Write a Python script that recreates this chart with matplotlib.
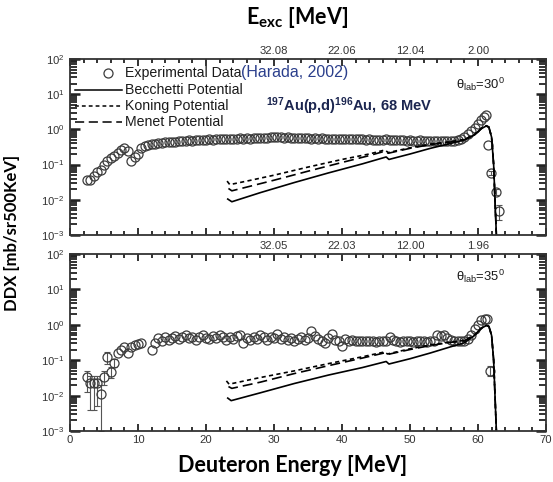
import matplotlib
matplotlib.use('Agg')
import matplotlib.pyplot as plt
from matplotlib import font_manager as fm
from matplotlib.ticker import (LogLocator, MultipleLocator, NullFormatter,
                               FuncFormatter, NullLocator)
import numpy as np


def pick(names):
    for n in names:
        try:
            fm.findfont(fm.FontProperties(family=n), fallback_to_default=False)
            return n
        except Exception:
            pass
    return None


NARROW = pick(['Liberation Sans Narrow', 'Arial Narrow', 'Nimbus Sans Narrow'])
ARIAL = pick(['Liberation Sans', 'Arial']) or 'DejaVu Sans'
BOLDF = pick(['Lato', 'Carlito', 'Open Sans']) or 'DejaVu Sans'
NSCALE = 1.0
if NARROW is None:
    NARROW = ARIAL
    NSCALE = 0.85

plt.rcParams['font.family'] = [NARROW, 'DejaVu Sans']
plt.rcParams['mathtext.fontset'] = 'custom'
plt.rcParams['mathtext.rm'] = NARROW
plt.rcParams['mathtext.it'] = NARROW + ':italic'
plt.rcParams['mathtext.bf'] = ARIAL + ':bold'

# ---------------- data ----------------
# theta_lab = 30 deg : experimental data (Harada, 2002)
e_exp30 = [2.5, 3.0, 3.5, 4.0, 4.5, 5.0, 5.5, 6.0, 6.5, 7.0, 7.5, 8.0, 8.5, 9.0,
           9.5, 10.0, 10.5, 11.0, 11.5, 12.0, 12.5, 13.0, 13.5, 14.0, 14.5, 15.0,
           15.5, 16.0, 16.5, 17.0, 17.5, 18.0, 18.5, 19.0, 19.5, 20.0, 20.5, 21.0,
           21.5, 22.0, 22.5, 23.0, 23.5, 24.0, 24.5, 25.0, 25.5, 26.0, 26.5, 27.0,
           27.5, 28.0, 28.5, 29.0, 29.5, 30.0, 30.5, 31.0, 31.5, 32.0, 32.5, 33.0,
           33.5, 34.0, 34.5, 35.0, 35.5, 36.0, 36.5, 37.0, 37.5, 38.0, 38.5, 39.0,
           39.5, 40.0, 40.5, 41.0, 41.5, 42.0, 42.5, 43.0, 43.5, 44.0, 44.5, 45.0,
           45.5, 46.0, 46.5, 47.0, 47.5, 48.0, 48.5, 49.0, 49.5, 50.0, 50.5, 51.0,
           51.5, 52.0, 52.5, 53.0, 53.5, 54.0, 54.5, 55.0, 55.5, 56.0, 56.5, 57.0,
           57.5, 58.0, 58.5, 59.0, 59.5, 60.0, 60.5, 60.9, 61.2, 61.5, 61.9, 62.6,
           63.1]
ddx_exp30 = [0.036, 0.037, 0.048, 0.060, 0.072, 0.095, 0.125, 0.150, 0.175, 0.210,
             0.260, 0.300, 0.240, 0.130, 0.165, 0.200, 0.300, 0.330, 0.350, 0.380,
             0.390, 0.400, 0.420, 0.430, 0.440, 0.450, 0.450, 0.470, 0.460, 0.480,
             0.490, 0.480, 0.500, 0.500, 0.510, 0.500, 0.520, 0.510, 0.530, 0.520,
             0.540, 0.530, 0.540, 0.550, 0.540, 0.560, 0.550, 0.560, 0.550, 0.570,
             0.560, 0.560, 0.570, 0.580, 0.600, 0.620, 0.600, 0.590, 0.580, 0.590,
             0.570, 0.580, 0.570, 0.560, 0.570, 0.560, 0.550, 0.560, 0.550, 0.560,
             0.540, 0.550, 0.540, 0.530, 0.550, 0.540, 0.530, 0.540, 0.520, 0.530,
             0.520, 0.530, 0.510, 0.520, 0.510, 0.500, 0.510, 0.500, 0.520, 0.500,
             0.490, 0.510, 0.490, 0.500, 0.480, 0.490, 0.480, 0.470, 0.490, 0.480,
             0.470, 0.480, 0.460, 0.470, 0.470, 0.460, 0.480, 0.470, 0.480, 0.500,
             0.540, 0.620, 0.750, 0.900, 1.100, 1.400, 1.800, 2.200, 2.500, 0.360,
             0.058, 0.017, 0.0048]
# error bars visible for a few points (lower / upper ends)
e_err30 = [61.9, 62.6, 63.1]
lo_err30 = [0.050, 0.014, 0.0026]
hi_err30 = [0.066, 0.020, 0.0070]

# theta_lab = 35 deg : experimental data
e_exp35 = [2.5, 3.0, 3.5, 4.0, 4.5, 5.0, 5.5, 6.0, 6.5, 7.0, 7.5, 8.0, 8.5, 9.0,
           9.5, 10.0, 10.5, 12.0, 12.5, 13.0, 13.5, 14.0, 14.5, 15.0, 15.5, 16.0,
           16.5, 17.0, 17.5, 18.0, 18.5, 19.0, 19.5, 20.0, 20.5, 21.0, 21.5, 22.0,
           22.5, 23.0, 23.5, 24.0, 24.5, 25.0, 25.5, 26.0, 26.5, 27.0, 27.5, 28.0,
           28.5, 29.0, 29.5, 30.0, 30.5, 31.0, 31.5, 32.0, 32.5, 33.0, 33.5, 34.0,
           34.5, 35.0, 35.5, 36.0, 36.5, 37.0, 37.5, 38.0, 38.5, 39.0, 39.5, 40.0,
           40.5, 41.0, 41.5, 42.0, 42.5, 43.0, 43.5, 44.0, 44.5, 45.0, 45.5, 46.0,
           46.5, 47.0, 47.5, 48.0, 48.5, 49.0, 49.5, 50.0, 50.5, 51.0, 51.5, 52.0,
           52.5, 53.0, 53.5, 54.0, 54.5, 55.0, 55.5, 56.0, 56.5, 57.0, 57.5, 58.0,
           58.5, 59.0, 59.5, 60.0, 60.5, 61.0, 61.3, 61.8]
ddx_exp35 = [0.034, 0.022, 0.022, 0.022, 0.011, 0.034, 0.120, 0.047, 0.085, 0.160,
             0.200, 0.240, 0.160, 0.240, 0.270, 0.280, 0.310, 0.190, 0.300, 0.420,
             0.350, 0.450, 0.380, 0.420, 0.480, 0.400, 0.440, 0.500, 0.420, 0.460,
             0.380, 0.450, 0.520, 0.430, 0.400, 0.480, 0.420, 0.500, 0.460, 0.380,
             0.440, 0.400, 0.470, 0.500, 0.300, 0.420, 0.380, 0.460, 0.410, 0.500,
             0.440, 0.380, 0.450, 0.420, 0.550, 0.400, 0.460, 0.380, 0.420, 0.360,
             0.400, 0.440, 0.380, 0.420, 0.650, 0.480, 0.400, 0.360, 0.300, 0.420,
             0.560, 0.380, 0.350, 0.260, 0.400, 0.360, 0.380, 0.340, 0.360, 0.350,
             0.340, 0.360, 0.350, 0.330, 0.340, 0.360, 0.350, 0.460, 0.380, 0.350,
             0.330, 0.360, 0.340, 0.350, 0.330, 0.360, 0.340, 0.350, 0.330, 0.340,
             0.360, 0.500, 0.480, 0.520, 0.420, 0.380, 0.360, 0.350, 0.360, 0.350,
             0.400, 0.500, 0.750, 1.000, 1.400, 1.500, 1.450, 0.050]
e_err35 = [2.5, 3.0, 3.5, 4.0, 4.5, 5.0, 5.5, 6.0, 6.5, 61.8]
lo_err35 = [0.013, 0.004, 0.004, 0.005, 0.001, 0.020, 0.080, 0.032, 0.065, 0.036]
hi_err35 = [0.050, 0.035, 0.035, 0.035, 0.020, 0.050, 0.170, 0.065, 0.110, 0.068]

# model calculations, theta_lab = 30 deg
e_becc30 = [23.2, 23.8, 28.0, 33.0, 38.0, 43.0, 46.5, 46.9, 50.0, 53.0, 56.0, 58.0,
            59.5, 60.5, 61.2, 61.6, 62.0, 62.3, 62.5, 62.7]
ddx_becc30 = [0.0105, 0.0088, 0.016, 0.031, 0.058, 0.105, 0.165, 0.140, 0.20, 0.29,
              0.40, 0.50, 0.70, 1.05, 1.25, 1.15, 0.60, 0.10, 0.010, 0.001]
e_koni30 = [23.1, 23.5, 26.0, 30.0, 35.0, 40.0, 44.0, 46.3, 46.8, 50.0, 53.0, 56.0,
            58.0, 59.5, 60.5, 61.2, 61.6, 62.0, 62.3, 62.5, 62.7]
ddx_koni30 = [0.034, 0.027, 0.034, 0.050, 0.085, 0.140, 0.200, 0.260, 0.220, 0.30,
              0.38, 0.45, 0.52, 0.72, 1.08, 1.28, 1.17, 0.60, 0.10, 0.010, 0.001]
e_mene30 = [23.3, 23.8, 26.0, 30.0, 35.0, 40.0, 44.0, 46.3, 46.8, 50.0, 53.0, 56.0,
            58.0, 59.5, 60.5, 61.2, 61.6, 62.0, 62.3, 62.5, 62.7]
ddx_mene30 = [0.021, 0.018, 0.023, 0.036, 0.065, 0.115, 0.180, 0.240, 0.210, 0.29,
              0.37, 0.44, 0.51, 0.71, 1.06, 1.27, 1.16, 0.60, 0.10, 0.010, 0.001]

# model calculations, theta_lab = 35 deg
e_becc35 = [23.2, 23.7, 28.0, 33.0, 38.0, 43.0, 46.5, 46.9, 50.0, 53.0, 56.0, 58.0,
            59.5, 60.5, 61.2, 61.6, 62.0, 62.3, 62.5, 62.7]
ddx_becc35 = [0.0085, 0.0072, 0.012, 0.022, 0.038, 0.062, 0.092, 0.078, 0.11, 0.16,
              0.24, 0.31, 0.50, 0.80, 0.95, 0.90, 0.50, 0.10, 0.010, 0.001]
e_koni35 = [23.0, 23.4, 27.5, 33.0, 38.0, 43.0, 46.2, 46.7, 50.0, 53.0, 56.0, 58.0,
            59.5, 60.5, 61.2, 61.6, 62.0, 62.3, 62.5, 62.7]
ddx_koni35 = [0.026, 0.021, 0.031, 0.050, 0.080, 0.125, 0.170, 0.150, 0.21, 0.27,
              0.33, 0.36, 0.52, 0.82, 0.97, 0.92, 0.50, 0.10, 0.010, 0.001]
e_mene35 = [23.3, 23.8, 28.0, 33.0, 38.0, 43.0, 46.2, 46.7, 50.0, 53.0, 56.0, 58.0,
            59.5, 60.5, 61.2, 61.6, 62.0, 62.3, 62.5, 62.7]
ddx_mene35 = [0.018, 0.016, 0.024, 0.042, 0.070, 0.115, 0.160, 0.145, 0.20, 0.26,
              0.32, 0.35, 0.51, 0.81, 0.96, 0.91, 0.50, 0.10, 0.010, 0.001]

# excitation-energy axis labels (placed at deuteron energies 30, 40, 50, 60 MeV)
exc_tick_energy = [30, 40, 50, 60]
exc_labels30 = ['32.08', '22.06', '12.04', '2.00']
exc_labels35 = ['32.05', '22.03', '12.00', '1.96']

legend_labels = ['Experimental Data', 'Becchetti Potential', 'Koning Potential',
                 'Menet Potential']

# ---------------- figure ----------------
W, H = 553, 482
fig = plt.figure(figsize=(W / 100, H / 100), dpi=100)


def rect(l, t, r, b):
    return [l / W, 1 - b / H, (r - l) / W, (b - t) / H]


ax1 = fig.add_axes(rect(70, 59, 546, 235))
ax2 = fig.add_axes(rect(70, 254, 546, 431))

TICKC = '#222222'
LBLC = '#333333'


def logfmt(v, p):
    return r'$\mathregular{10^{%d}}$' % int(round(np.log10(v)))


for ax in (ax1, ax2):
    ax.set_xlim(0, 70)
    ax.set_yscale('log')
    ax.set_ylim(1e-3, 1e2)
    ax.xaxis.set_major_locator(MultipleLocator(10))
    ax.xaxis.set_minor_locator(MultipleLocator(2))
    ax.yaxis.set_major_locator(LogLocator(base=10, numticks=10))
    ax.yaxis.set_minor_locator(LogLocator(base=10, subs=np.arange(2, 10), numticks=10))
    ax.yaxis.set_minor_formatter(NullFormatter())
    ax.yaxis.set_major_formatter(FuncFormatter(logfmt))
    ax.tick_params(which='both', direction='in', top=True, right=True,
                   color=TICKC, labelcolor=LBLC, labelsize=9.5 * NSCALE)
    ax.tick_params(axis='x', which='major', length=5, width=1.3)
    ax.tick_params(axis='x', which='minor', length=3, width=1.3)
    ax.tick_params(axis='y', which='major', length=7, width=1.8, pad=4)
    ax.tick_params(axis='y', which='minor', length=5, width=1.3)
    for s in ax.spines.values():
        s.set_linewidth(1.3)
        s.set_color('#333333')

ax1.tick_params(labelbottom=False)
ax2.tick_params(axis='x', pad=3)

for ax, labs in ((ax1, exc_labels30), (ax2, exc_labels35)):
    sec = ax.secondary_xaxis('top')
    sec.set_xticks(exc_tick_energy, labels=labs)
    sec.xaxis.set_minor_locator(NullLocator())
    sec.tick_params(length=0, pad=2, labelsize=9.5 * NSCALE, labelcolor=LBLC)
    sec.spines['top'].set_visible(False)

mk = dict(marker='o', ms=6.5, mfc='none', mec='#3c3c3c', mew=0.9, ls='none')
lkw = dict(color='black', lw=1.2)

# top panel
ax1.errorbar(e_err30, ddx_exp30[-3:], yerr=[np.array(ddx_exp30[-3:]) - np.array(lo_err30),
             np.array(hi_err30) - np.array(ddx_exp30[-3:])], fmt='none',
             ecolor='#555555', elinewidth=0.8, capsize=2, capthick=0.8)
ax1.plot(e_exp30, ddx_exp30, **mk)
ax1.plot(e_becc30, ddx_becc30, ls='-', **lkw)
ax1.plot(e_koni30, ddx_koni30, ls=(0, (2.5, 2)), **lkw)
ax1.plot(e_mene30, ddx_mene30, ls=(0, (6, 3)), **lkw)

# bottom panel
val_err35 = [ddx_exp35[e_exp35.index(e)] for e in e_err35]
ax2.errorbar(e_err35, val_err35,
             yerr=[np.array(val_err35) - np.array(lo_err35),
                   np.array(hi_err35) - np.array(val_err35)],
             fmt='none', ecolor='#555555', elinewidth=0.8, capsize=2, capthick=0.8)
ax2.plot(e_exp35, ddx_exp35, **mk)
ax2.plot(e_becc35, ddx_becc35, ls='-', **lkw)
ax2.plot(e_koni35, ddx_koni35, ls=(0, (2.5, 2)), **lkw)
ax2.plot(e_mene35, ddx_mene35, ls=(0, (6, 3)), **lkw)


# ---- manual legend (top panel) ----
def fx(px):
    return (px - 70) / 476


def fy(py):
    return (235 - py) / 176


LEGFS = 12 * NSCALE
ax1.plot([fx(108)], [fy(73)], transform=ax1.transAxes, clip_on=False, **mk)
rows_y = [73, 90, 106, 122]
styles = ['-', (0, (2.5, 2)), (0, (6, 3))]
for yy, st in zip(rows_y[1:], styles):
    ax1.plot([fx(75), fx(122)], [fy(yy), fy(yy)], transform=ax1.transAxes,
             ls=st, color='black', lw=1.1, clip_on=False)
txts = []
for yy, lab in zip(rows_y, legend_labels):
    t = ax1.text(fx(125), fy(yy), lab, transform=ax1.transAxes, ha='left',
                 va='center', fontsize=LEGFS, color='#1a1a1a')
    txts.append(t)
fig.canvas.draw()
bb = txts[0].get_window_extent()
x_end = ax1.transAxes.inverted().transform((bb.x1, bb.y0))[0]
ax1.text(x_end, fy(73), '(Harada, 2002)', transform=ax1.transAxes, ha='left',
         va='center', fontsize=11.5, family=ARIAL, color='#2b3f8c')

ax1.text(fx(266), fy(106),
         r'$\mathregular{^{197}}$Au(p,d)$\mathregular{^{196}}$Au, 68 MeV',
         transform=ax1.transAxes, ha='left', va='center', fontsize=10.5,
         family=ARIAL, weight='bold', color='#1c2650')

ax1.text(fx(456), fy(84), r'θ$_{\mathregular{lab}}$=30$^{\mathregular{0}}$',
         transform=ax1.transAxes, ha='left', va='center', fontsize=11 * NSCALE,
         color='#1a1a1a')
ax2.text(fx(456), (431 - 276) / 177, r'θ$_{\mathregular{lab}}$=35$^{\mathregular{0}}$',
         transform=ax2.transAxes, ha='left', va='center', fontsize=11 * NSCALE,
         color='#1a1a1a')

# ---- axis titles ----
fig.text(297 / W, 1 - 18 / H, r'E$_{\mathregular{exc}}$ [MeV]', ha='center',
         va='center', family=BOLDF, weight='bold', fontsize=15.5, color='black')
fig.text(293 / W, 1 - 465 / H, 'Deuteron Energy [MeV]', ha='center', va='center',
         family=BOLDF, weight='bold', fontsize=15.5, color='black')
fig.text(12 / W, 1 - 233 / H, 'DDX [mb/sr500KeV]', ha='center', va='center',
         rotation=90, family=BOLDF, weight='bold', fontsize=12, color='black')

fig.savefig('out.png', dpi=100)
